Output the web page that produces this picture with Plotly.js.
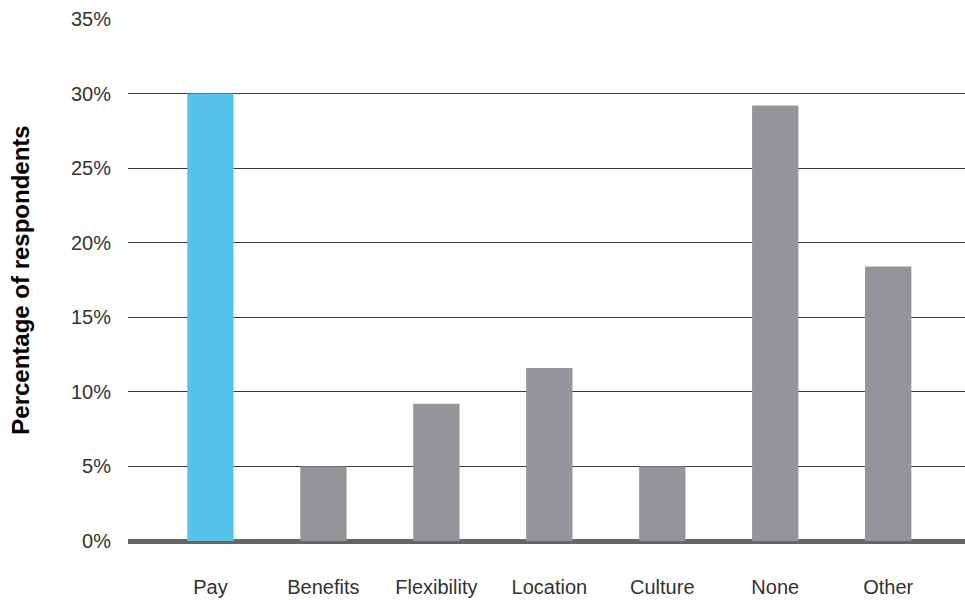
<!DOCTYPE html>
<html>
<head>
<meta charset="utf-8">
<script src="https://cdn.plot.ly/plotly-3.0.1.min.js"></script>
<style>html,body{margin:0;padding:0;background:#fff;}#chart{width:965px;height:600px;}</style>
</head>
<body>
<div id="chart"></div>
<script>
const categories = ["Pay", "Benefits", "Flexibility", "Location", "Culture", "None", "Other"];
const values = [30, 5, 9.2, 11.6, 5, 29.2, 18.4];
const barColors = ["#56c3ea", "#939598", "#939598", "#939598", "#939598", "#939598", "#939598"];
const yTickVals = [0, 5, 10, 15, 20, 25, 30, 35];
const yTickText = ["0%", "5%", "10%", "15%", "20%", "25%", "30%", "35%"];

const font = "Liberation Sans, Arial, Helvetica, sans-serif";

Plotly.newPlot("chart", [{
  type: "bar",
  x: categories,
  y: values,
  marker: {color: barColors},
  width: 0.41,
  hoverinfo: "x+y"
}], {
  width: 965, height: 600,
  margin: {l: 128, r: 0, t: 19, b: 59},
  paper_bgcolor: "#fff", plot_bgcolor: "#fff",
  showlegend: false,
  font: {family: font, size: 20, color: "#333"},
  xaxis: {
    range: [-0.73, 6.68],
    showgrid: false, zeroline: false, showline: false,
    ticks: "", ticklabelstandoff: 32,
    tickfont: {family: font, size: 20, color: "#333"}
  },
  yaxis: {
    range: [0, 35],
    tickvals: yTickVals, ticktext: yTickText,
    showgrid: true, gridcolor: "#3a3a3a", gridwidth: 1,
    zeroline: true, zerolinecolor: "#666", zerolinewidth: 5,
    showline: false, ticks: "", ticklabelstandoff: 16,
    tickfont: {family: font, size: 20, color: "#333"},
    title: {text: "<b>Percentage of respondents</b>", font: {family: font, size: 24, color: "#000"}, standoff: 34}
  }
}, {displayModeBar: false});
</script>
</body>
</html>
